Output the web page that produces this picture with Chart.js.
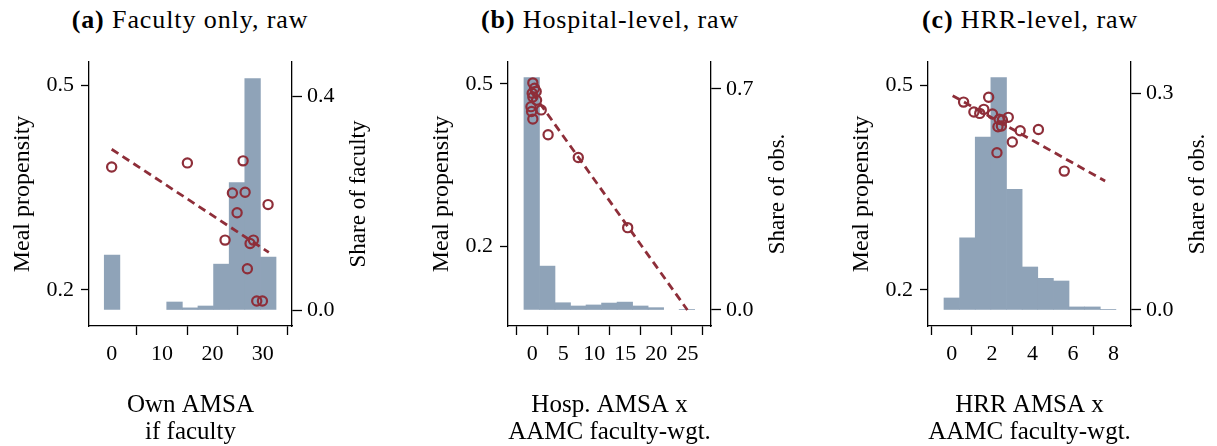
<!DOCTYPE html>
<html>
<head>
<meta charset="utf-8">
<script src="https://cdn.jsdelivr.net/npm/chart.js@4.4.1/dist/chart.umd.min.js"></script>
<style>
  body { margin:0; background:#fff; width:1217px; height:446px; overflow:hidden; position:relative; font-family:"Liberation Serif", serif; }
  .panel { position:absolute; top:0; width:378px; height:446px; }
  .ttl { position:absolute; top:4px; font-size:26px; line-height:32px; letter-spacing:0.9px; white-space:nowrap; transform:translateX(-50%); color:#000; }
</style>
</head>
<body>
<div class="ttl" style="left:190px"><b>(a)</b> Faculty only, raw</div>
<div class="ttl" style="left:610px"><b>(b)</b> Hospital-level, raw</div>
<div class="ttl" style="left:1030px"><b>(c)</b> HRR-level, raw</div>
<canvas id="chartA" class="panel" width="378" height="446" style="left:0px"></canvas>
<canvas id="chartB" class="panel" width="378" height="446" style="left:419px"></canvas>
<canvas id="chartC" class="panel" width="378" height="446" style="left:839px"></canvas>
<script>
// (a) faculty only
const binsA  = [0.08, 3.18, 6.28, 9.38, 12.48, 15.58, 18.68, 21.78, 24.88, 27.98, 31.08];
const shareA = [0.103, 0, 0, 0, 0.015, 0.004, 0.0075, 0.086, 0.239, 0.434, 0.099];
const amsaA  = [0.0, 15.03, 26.09, 23.97, 26.49, 24.9, 31.05, 22.51, 28.14, 27.48, 26.94, 28.8, 29.93];
const mealA  = [0.380, 0.386, 0.389, 0.342, 0.343, 0.313, 0.325, 0.273, 0.273, 0.268, 0.231, 0.184, 0.184];
const fitXA  = [0, 31.2];
const fitYA  = [0.406, 0.255];
const xTicksA = [0, 10, 20, 30];
const shareTicksA = [0, 0.4];

// (b) hospital level
const binsB  = [-0.08, 2.42, 4.92, 7.42, 9.92, 12.42, 14.92, 17.42, 19.92, 22.42, 24.92];
const shareB = [0.736, 0.139, 0.023, 0.0127, 0.016, 0.022, 0.025, 0.0127, 0.0074, 0, 0.002];
const amsaB  = [0.1, 0.37, 0.64, 0.0, 0.1, 0.7, -0.2, -0.1, 1.45, 0.1, 2.56, 7.42, 15.38];
const mealB  = [0.502, 0.492, 0.486, 0.483, 0.476, 0.470, 0.458, 0.449, 0.452, 0.435, 0.406, 0.364, 0.234];
const fitXB  = [0, 25];
const fitYB  = [0.484, 0.0815];
const xTicksB = [0, 5, 10, 15, 20, 25];
const shareTicksB = [0, 0.7];

// (c) HRR level
const binsC  = [0.007, 0.78, 1.553, 2.326, 3.099, 3.872, 4.645, 5.418, 6.191, 6.964, 7.737];
const shareC = [0.0166, 0.0997, 0.2395, 0.3216, 0.167, 0.0595, 0.0438, 0.0401, 0.0042, 0.0042, 0.0005];
const amsaC  = [0.59, 1.83, 1.10, 1.39, 1.59, 2.02, 2.35, 2.51, 2.80, 2.29, 2.46, 3.39, 3.00, 4.29, 2.24, 5.57];
const mealC  = [0.475, 0.482, 0.4605, 0.4585, 0.4644, 0.4576, 0.4498, 0.4488, 0.4527, 0.439, 0.440, 0.433, 0.4166, 0.435, 0.401, 0.374];
const fitXC  = [0.05, 7.59];
const fitYC  = [0.4844, 0.3595];
const xTicksC = [0, 2, 4, 6, 8];
const shareTicksC = [0, 0.3];

const mealTicks = [0.2, 0.5];

const barCol = '#8fa3b8';
const dotCol = '#8e2e39';
const ink = '#000';
const FONT = 'Liberation Serif';

// right axis title reads bottom-to-top, chart.js would rotate it the other way
const rightTitle = {
    id: 'rightTitle',
    afterDraw(chart, args, o) {
        const ctx = chart.ctx;
        const ca = chart.chartArea;
        ctx.save();
        ctx.font = '23px "' + FONT + '"';
        ctx.fillStyle = ink;
        ctx.textAlign = 'center';
        ctx.textBaseline = 'middle';
        ctx.translate(359, (ca.top + ca.bottom) / 2);
        ctx.rotate(-Math.PI / 2);
        ctx.fillText(o.text, 0, 0);
        ctx.restore();
    }
};

function pts(xs, ys) {
    return xs.map((x, i) => ({x: x, y: ys[i]}));
}

function axisLook(len) {
    return {
        border: {display: true, color: ink, width: 1.3},
        grid: {drawOnChartArea: false, drawTicks: true, tickLength: len, tickColor: ink, tickWidth: 1.3}
    };
}

function makeChart(id, p) {
    const config = {
        type: 'scatter',
        data: {
            datasets: [
                {
                    type: 'scatter',
                    data: pts(p.xs, p.ys),
                    yAxisID: 'y',
                    pointRadius: 4.6,
                    pointBorderWidth: 2.2,
                    borderColor: dotCol,
                    backgroundColor: 'rgba(0,0,0,0)',
                    order: 0
                },
                {
                    type: 'line',
                    data: pts(p.fx, p.fy),
                    yAxisID: 'y',
                    borderColor: dotCol,
                    borderWidth: 2.8,
                    borderDash: [8, 5],
                    pointRadius: 0,
                    fill: false,
                    order: 1
                },
                {
                    type: 'bar',
                    data: pts(p.bins, p.share),
                    yAxisID: 'y1',
                    backgroundColor: barCol,
                    borderWidth: 0,
                    // empty bins: no hairline
                    inflateAmount: c => (c.raw && c.raw.y > 0 ? 'auto' : 0),
                    barPercentage: 1,
                    categoryPercentage: 1,
                    order: 2
                }
            ]
        },
        options: {
            responsive: false,
            animation: false,
            layout: {padding: {top: 62, left: 0, right: 0, bottom: 0}},
            plugins: {
                legend: {display: false},
                tooltip: {enabled: false},
                rightTitle: {text: p.rtitle}
            },
            scales: {
                x: Object.assign(axisLook(9), {
                    type: 'linear',
                    position: 'bottom',
                    min: p.xmin, max: p.xmax,
                    offset: false,
                    afterFit: s => { s.height = 120; },
                    afterBuildTicks: s => { s.ticks = p.xticks.map(v => ({value: v})); },
                    ticks: {font: {size: 22, family: FONT}, color: ink, padding: 6, autoSkip: false, maxRotation: 0,
                        callback: v => String(v)},
                    title: {display: true, text: p.xtitle, color: ink,
                        font: {size: 25, family: FONT, lineHeight: 1.08}, padding: {top: 0, bottom: 0}}
                }),
                y: Object.assign(axisLook(8), {
                    type: 'linear',
                    position: 'left',
                    min: p.ymin, max: p.ymax,
                    afterFit: s => { s.width = 89; },
                    afterBuildTicks: s => { s.ticks = mealTicks.map(v => ({value: v})); },
                    ticks: {font: {size: 22, family: FONT}, color: ink, padding: 7,
                        callback: v => v.toFixed(1)},
                    title: {display: true, text: 'Meal propensity', color: ink,
                        font: {size: 24, family: FONT, lineHeight: 1.1}, padding: {top: 10, bottom: 0}}
                }),
                y1: Object.assign(axisLook(10), {
                    type: 'linear',
                    position: 'right',
                    min: p.y1min, max: p.y1max,
                    afterFit: s => { s.width = 86; },
                    afterBuildTicks: s => { s.ticks = p.rticks.map(v => ({value: v})); },
                    ticks: {font: {size: 22, family: FONT}, color: ink, padding: 5,
                        callback: v => v.toFixed(1)}
                })
            }
        },
        plugins: [rightTitle]
    };
    return new Chart(document.getElementById(id), config);
}

makeChart('chartA', {
    bins: binsA, share: shareA, xs: amsaA, ys: mealA, fx: fitXA, fy: fitYA,
    xmin: -4.5, xmax: 35.8, ymin: 0.1473, ymax: 0.5337, y1min: -0.030, y1max: 0.465,
    xticks: xTicksA, rticks: shareTicksA,
    xtitle: ['Own AMSA', 'if faculty'], rtitle: 'Share of faculty'
});
makeChart('chartB', {
    bins: binsB, share: shareB, xs: amsaB, ys: mealB, fx: fitXB, fy: fitYB,
    xmin: -3.9, xmax: 28.8, ymin: 0.0519, ymax: 0.5407, y1min: -0.0507, y1max: 0.7855,
    xticks: xTicksB, rticks: shareTicksB,
    xtitle: ['Hosp. AMSA x', 'AAMC faculty-wgt.'], rtitle: 'Share of obs.'
});
makeChart('chartC', {
    bins: binsC, share: shareC, xs: amsaC, ys: mealC, fx: fitXC, fy: fitYC,
    xmin: -1.17, xmax: 8.87, ymin: 0.1473, ymax: 0.5337, y1min: -0.0222, y1max: 0.3433,
    xticks: xTicksC, rticks: shareTicksC,
    xtitle: ['HRR AMSA x', 'AAMC faculty-wgt.'], rtitle: 'Share of obs.'
});
</script>
</body>
</html>
